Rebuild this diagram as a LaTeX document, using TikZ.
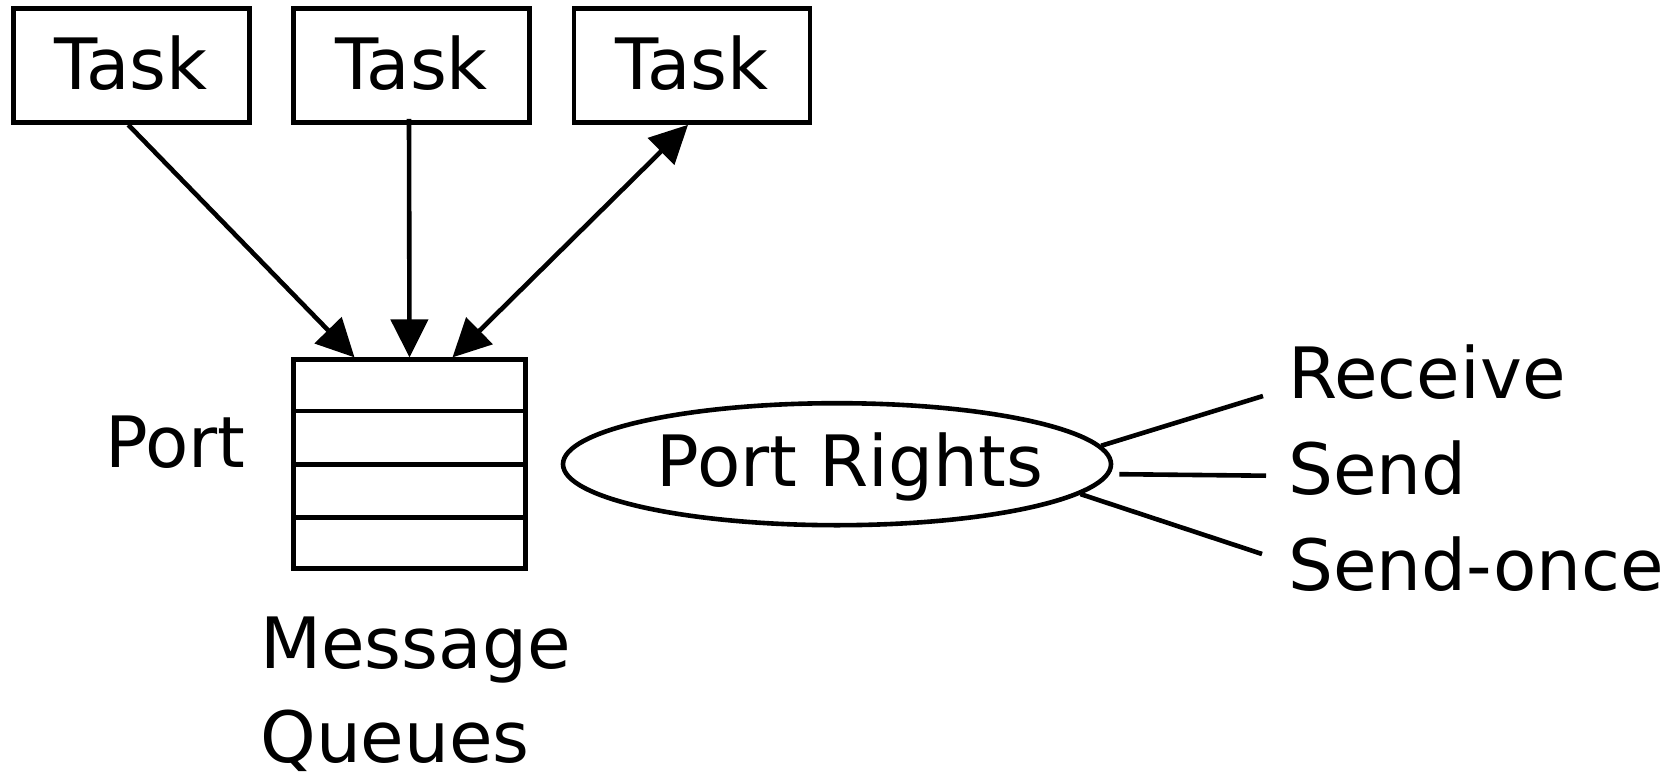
\documentclass[tikz,border=0pt]{standalone}
\usepackage{fontspec}
\setmainfont{DejaVu Sans}
\usetikzlibrary{arrows.meta,calc,shapes.geometric}
\begin{document}
\begin{tikzpicture}[x=1pt,y=-1pt,line width=4.6pt,
  every node/.style={inner sep=0pt,font=\fontsize{70.8pt}{97pt}\selectfont},
  taskbox/.style={draw,rectangle,minimum width=236pt,minimum height=114pt,
    text height=52pt,text depth=4pt},
  queuebox/.style={draw,rectangle,minimum width=232pt,minimum height=209pt},
  rightsoval/.style={draw,ellipse,minimum width=548pt,minimum height=122pt},
  label/.style={anchor=base west},
  tip/.style={-{Triangle[length=38pt,width=37pt]}},
  dtip/.style={{Triangle[length=38pt,width=37pt]}-{Triangle[length=38pt,width=37pt]}}]
  \useasboundingbox (0,0) rectangle (1675,778);

  % tasks
  \node[taskbox] (t1) at (131.3,65.5) {Task};
  \node[taskbox] (t2) at (411.5,65.5) {Task};
  \node[taskbox] (t3) at (692,65.5) {Task};

  % port with its message queue cells
  \node[queuebox] (q) at (409.5,464.2) {};
  \foreach \f in {0.25,0.5,0.75}
    \draw ($(q.north west)!\f!(q.south west)$) -- ($(q.north east)!\f!(q.south east)$);
  \node[label] (port) at (103,467) {Port};
  \node[label] (msg) at (258,668) {Message};
  \node[label] (que) at (258,762) {Queues};

  % port rights
  \node[rightsoval] (pr) at (837,464.2) {};
  \node[anchor=base] (prt) at (850,486) {Port Rights};
  \node[label] (recv) at (1286,398) {Receive};
  \node[label] (send) at (1286,494.6) {Send};
  \node[label] (once) at (1286,590.7) {Send-once};

  % task to port connectors
  \draw[tip] ($(t1.south)+(-3,0)$) -- ($(q.north)+(-55,0)$);
  \draw[tip] ($(t2.south)+(-2.5,-6)$) -- (q.north);
  \draw[dtip] ($(q.north)+(43,0)$) -- ($(t3.south)+(-4,0)$);

  % rights fan-out
  \coordinate (recvend) at (1263,396);
  \coordinate (sendend) at (1266,475.7);
  \coordinate (onceend) at (1262,554);
  \draw (pr.4) -- (recvend);
  \draw ($(pr.east)+(6,10)$) -- (sendend);
  \draw (pr.-7) -- (onceend);
\end{tikzpicture}
\end{document}
